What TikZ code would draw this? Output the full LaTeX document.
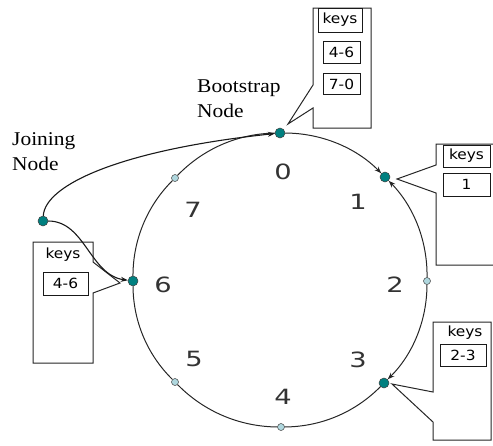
\documentclass[tikz,border=0pt]{standalone}
\usepackage{fontspec}
\setmainfont{Liberation Serif}
\newfontfamily\ringfont[FakeStretch=1.3]{DejaVu Sans}
\newfontfamily\keyfont[FakeStretch=1.1]{DejaVu Sans}
\newfontfamily\labelfont[FakeStretch=1.1]{Liberation Serif}
\usetikzlibrary{arrows.meta}
\definecolor{tealdot}{RGB}{0,128,128}
\definecolor{lightdot}{RGB}{175,215,222}
\begin{document}
\begin{tikzpicture}[x=1pt,y=-1pt,
  bigdot/.style={circle,draw=black!75,fill=tealdot,inner sep=0pt,minimum size=10pt,line width=0.5pt},
  smalldot/.style={circle,draw=black!75,fill=lightdot,inner sep=0pt,minimum size=7pt,line width=0.5pt},
  ringarc/.style={draw=black!85,line width=1pt,looseness=0.89},
  conn/.style={draw=black!90,line width=1.1pt},
  tip/.style={-{Stealth[length=7pt,width=5pt]}},
  callout/.style={draw=black!85,line width=1pt,fill=white},
  keybox/.style={draw=black!90,line width=1pt,inner sep=0pt,font=\keyfont\fontsize{14}{15}\selectfont},
  keytext/.style={inner sep=0pt,font=\keyfont\fontsize{14}{15}\selectfont},
  ringlabel/.style={inner sep=0pt,font=\ringfont\fontsize{21}{21}\selectfont,text=black!80},
  namelabel/.style={inner sep=0pt,anchor=base west,align=left,font=\labelfont\fontsize{19.5}{24.5}\selectfont}
]
\useasboundingbox (0,0) rectangle (493,445);
\clip (0,0) rectangle (493,445);

% callouts
\draw[callout] (371,8) -- (313,8) -- (313,85) -- (288,124) -- (313,108) -- (313,128) -- (371,128) -- cycle;
\draw[callout] (500,144) -- (436,144) -- (436,165) -- (397,179) -- (436,193) -- (436,265) -- (500,265);
\draw[callout] (491,322) -- (433,322) -- (433,392) -- (392,384) -- (433,422) -- (433,440) -- (491,440) -- cycle;
\draw[callout] (33,242) -- (93,242) -- (93,262) -- (120,283) -- (93,293) -- (93,363) -- (33,363) -- cycle;

\node[keybox,minimum width=44pt,minimum height=24pt] (bk) at (340,20) {keys};
\node[keybox,minimum width=37pt,minimum height=22pt] (bv1) at (341.5,52) {4-6};
\node[keybox,minimum width=37pt,minimum height=21pt] (bv2) at (341.5,84) {7-0};

\node[keybox,minimum width=47pt,minimum height=22pt] (ok) at (466.5,156) {keys};
\node[keybox,minimum width=47pt,minimum height=23pt] (ov) at (466.5,184.5) {1};

\node[keytext] (tk) at (465,333) {keys};
\node[keybox,minimum width=46pt,minimum height=22pt] (tv) at (463,355) {2-3};

\node[keytext] (jk) at (63,255) {keys};
\node[keybox,minimum width=45pt,minimum height=23pt] (jv) at (65.5,283.5) {4-6};

% ring nodes
\node[bigdot]   (n0) at (280,133) {};
\node[bigdot]   (n1) at (385,177) {};
\node[smalldot] (n2) at (427,281) {};
\node[bigdot]   (n3) at (384,383) {};
\node[smalldot] (n4) at (281,427) {};
\node[smalldot] (n5) at (175,382) {};
\node[bigdot]   (n6) at (133,281) {};
\node[smalldot] (n7) at (175,178) {};
\node[bigdot]   (J)  at (43,221) {};

% ring arcs
\draw[ringarc,tip] (n0) to[bend left=22.5] (n1);
\draw[ringarc,tip] (n2) to[bend right=22.5] (n1);
\draw[ringarc,tip] (n2) to[bend left=22.5] (n3);
\draw[ringarc] (n3) to[bend left=22.5] (n4);
\draw[ringarc] (n4) to[bend left=22.5] (n5);
\draw[ringarc] (n5) to[bend left=22.5] (n6);
\draw[ringarc] (n6) to[bend left=22.5] (n7);
\draw[ringarc] (n7) to[bend left=22.5] (n0);

% joining connectors
\draw[conn,tip] (J) .. controls (45,185) and (120,150) .. (n0);
\draw[conn,tip] (J) .. controls (85,221) and (90,275) .. (n6);

% ring labels
\node[ringlabel] (l0) at (283,172) {0};
\node[ringlabel] (l1) at (358,202) {1};
\node[ringlabel] (l2) at (395,285) {2};
\node[ringlabel] (l3) at (358,360) {3};
\node[ringlabel] (l4) at (283,397) {4};
\node[ringlabel] (l5) at (194,359) {5};
\node[ringlabel] (l6) at (163,285) {6};
\node[ringlabel] (l7) at (193,210) {7};

% name labels (anchor at baseline of last line)
\node[namelabel] (bs) at (197,117) {Bootstrap\\Node};
\node[namelabel] (jn) at (12,170) {Joining\\Node};
\end{tikzpicture}
\end{document}
